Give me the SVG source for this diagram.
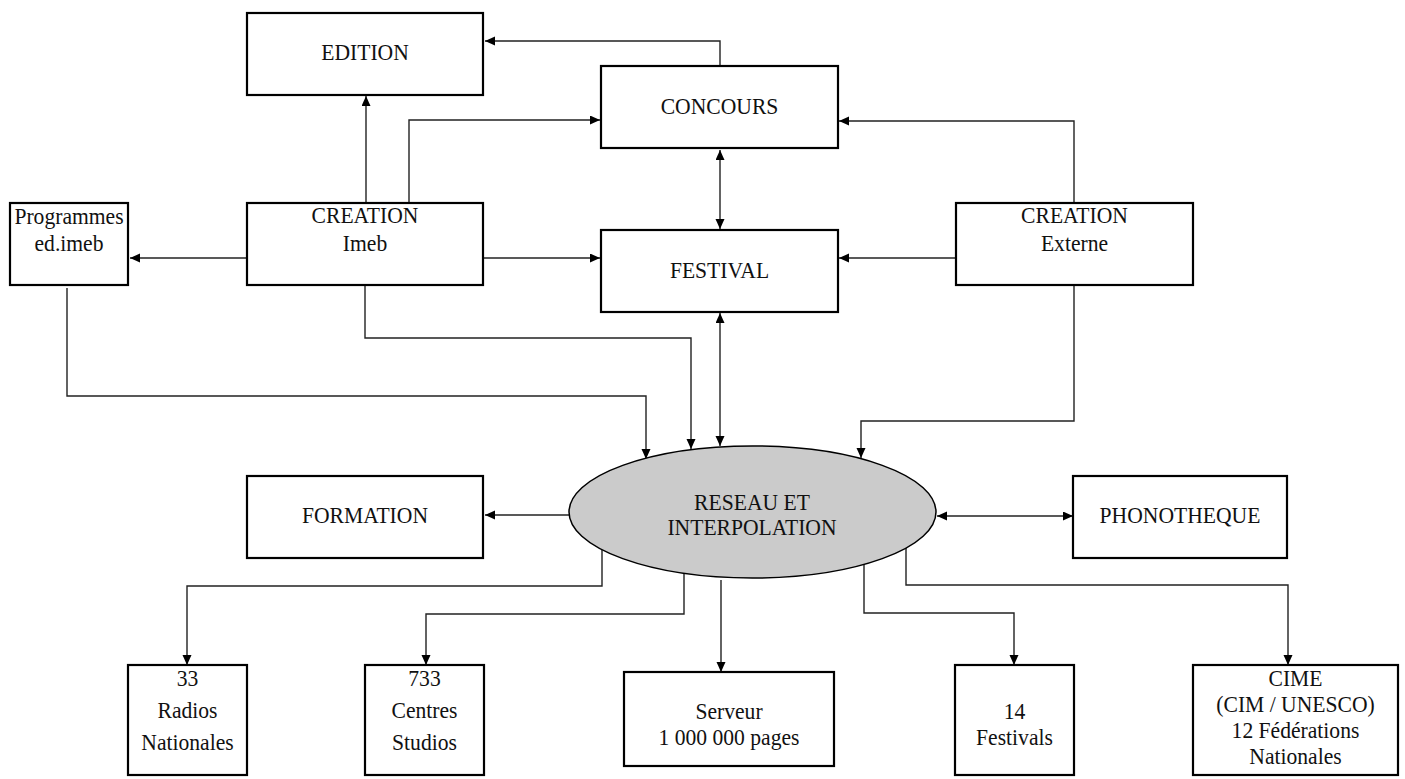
<svg xmlns="http://www.w3.org/2000/svg" width="1405" height="779" viewBox="0 0 1405 779">
<style>
.box{fill:#fff;stroke:#000;stroke-width:2.2}
.ell{fill:#cbcbcb;stroke:#000;stroke-width:1.5}
.t{font-family:"Liberation Serif","Times New Roman",serif;font-size:24px;fill:#111;text-anchor:middle}
.c{fill:none;stroke:#222;stroke-width:1.4}
.a{marker-end:url(#ah)}
.d{marker-start:url(#ah);marker-end:url(#ah)}
</style>
<defs>
<marker id="ah" markerUnits="userSpaceOnUse" markerWidth="11" markerHeight="10" refX="10" refY="4.5" orient="auto-start-reverse">
<path d="M0,0 L10,4.5 L0,9 z" fill="#000"/>
</marker>
</defs>
<rect width="1405" height="779" fill="#fff"/>
<g id="connectors">
<path class="c a" d="M720,66 V41 H485"/>
<path class="c a" d="M366,203 V96"/>
<path class="c a" d="M409,203 V120 H600"/>
<path class="c a" d="M1074,203 V121 H839"/>
<path class="c d" d="M720,150 V229"/>
<path class="c a" d="M484,258 H600"/>
<path class="c a" d="M956,258 H839"/>
<path class="c a" d="M247,258 H130"/>
<path class="c a" d="M67,288 V396 H646 V459"/>
<path class="c a" d="M365,286 V338 H691 V449"/>
<path class="c d" d="M720,313 V446"/>
<path class="c a" d="M1074,286 V421 H861 V458"/>
<path class="c a" d="M569,515 H485"/>
<path class="c d" d="M937,516 H1073"/>
<path class="c a" d="M602,550 V586 H187 V665"/>
<path class="c a" d="M684,573 V614 H426 V665"/>
<path class="c a" d="M721,580 V672"/>
<path class="c a" d="M864,564 V613 H1014 V665"/>
<path class="c a" d="M906,548 V585 H1288 V665"/>
</g>
<g id="edition"><rect class="box" x="247" y="13" width="236" height="82"/><g transform="matrix(0.9 0 0 1 36.5 0)"><text class="t" x="365" y="60">EDITION</text></g></g>
<g id="concours"><rect class="box" x="601" y="66" width="237" height="82"/><g transform="matrix(0.9 0 0 1 71.95 0)"><text class="t" x="719.5" y="114">CONCOURS</text></g></g>
<g id="programmes"><rect class="box" x="10" y="203" width="118" height="82"/><g transform="matrix(0.9 0 0 1 6.9 0)"><text class="t" x="69" y="224">Programmes</text><text class="t" x="69" y="251">ed.imeb</text></g></g>
<g id="creation-imeb"><rect class="box" x="247" y="203" width="236" height="82"/><g transform="matrix(0.9 0 0 1 36.5 0)"><text class="t" x="365" y="223">CREATION</text><text class="t" x="365" y="251">Imeb</text></g></g>
<g id="festival"><rect class="box" x="601" y="230" width="237" height="82"/><g transform="matrix(0.9 0 0 1 71.95 0)"><text class="t" x="719.5" y="278">FESTIVAL</text></g></g>
<g id="creation-externe"><rect class="box" x="956" y="203" width="237" height="82"/><g transform="matrix(0.9 0 0 1 107.45 0)"><text class="t" x="1074.5" y="223">CREATION</text><text class="t" x="1074.5" y="251">Externe</text></g></g>
<g id="reseau"><ellipse class="ell" cx="752.5" cy="512" rx="183.5" ry="66"/><g transform="matrix(0.9 0 0 1 75.2 0)"><text class="t" x="752" y="510">RESEAU ET</text><text class="t" x="752" y="535">INTERPOLATION</text></g></g>
<g id="formation"><rect class="box" x="247" y="476" width="236" height="82"/><g transform="matrix(0.9 0 0 1 36.5 0)"><text class="t" x="365" y="523">FORMATION</text></g></g>
<g id="phonotheque"><rect class="box" x="1073" y="476" width="214" height="82"/><g transform="matrix(0.9 0 0 1 118 0)"><text class="t" x="1180" y="523">PHONOTHEQUE</text></g></g>
<g id="radios"><rect class="box" x="128" y="665" width="119" height="110"/><g transform="matrix(0.9 0 0 1 18.75 0)"><text class="t" x="187.5" y="686">33</text><text class="t" x="187.5" y="718">Radios</text><text class="t" x="187.5" y="750">Nationales</text></g></g>
<g id="centres"><rect class="box" x="365" y="665" width="119" height="110"/><g transform="matrix(0.9 0 0 1 42.45 0)"><text class="t" x="424.5" y="686">733</text><text class="t" x="424.5" y="718">Centres</text><text class="t" x="424.5" y="750">Studios</text></g></g>
<g id="serveur"><rect class="box" x="624" y="672" width="210" height="94"/><g transform="matrix(0.9 0 0 1 72.9 0)"><text class="t" x="729" y="719">Serveur</text><text class="t" x="729" y="745">1 000 000 pages</text></g></g>
<g id="festivals"><rect class="box" x="955" y="665" width="119" height="110"/><g transform="matrix(0.9 0 0 1 101.45 0)"><text class="t" x="1014.5" y="719">14</text><text class="t" x="1014.5" y="745">Festivals</text></g></g>
<g id="cime"><rect class="box" x="1193" y="665" width="205" height="110"/><g transform="matrix(0.9 0 0 1 129.55 0)"><text class="t" x="1295.5" y="686">CIME</text><text class="t" x="1295.5" y="712">(CIM / UNESCO)</text><text class="t" x="1295.5" y="738">12 Fédérations</text><text class="t" x="1295.5" y="764">Nationales</text></g></g>
</svg>
